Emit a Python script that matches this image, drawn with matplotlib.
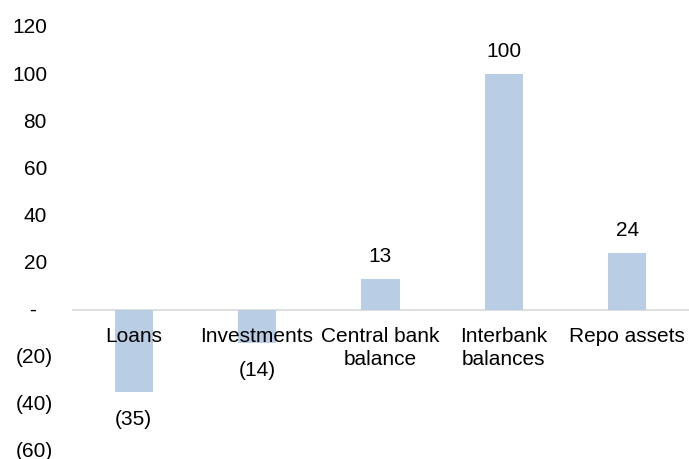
import matplotlib.pyplot as plt
from matplotlib.transforms import blended_transform_factory

plt.rcParams["font.family"] = ["Liberation Sans", "DejaVu Sans"]

categories = ["Loans", "Investments", "Central bank\nbalance", "Interbank\nbalances", "Repo assets"]
values = [-35, -14, 13, 100, 24]
y_ticks = [-60, -40, -20, 0, 20, 40, 60, 80, 100, 120]

BAR_COLOR = "#B9CDE5"
FS = 15


def fmt(v):
    if v < 0:
        return f"({abs(v):,.0f})"
    if v == 0:
        return "-"
    return f"{v:,.0f}"


fig = plt.figure(figsize=(6.89, 4.60), dpi=100)
ax = fig.add_axes([72 / 689, 8 / 460, 1 - 72 / 689, 424 / 460])

x = list(range(len(categories)))
ax.bar(x, values, width=0.31, color=BAR_COLOR, zorder=2)
ax.axhline(0, color="#D9D9D9", linewidth=1.2, zorder=1)

ax.set_xlim(-0.5, len(categories) - 0.5)
ax.set_ylim(-60, 120)

for side in ax.spines.values():
    side.set_visible(False)

ax.set_xticks(x)
ax.set_xticklabels([])
ax.set_yticks([])
ax.tick_params(length=0)

# category labels hang just under the zero line
for xi, name in zip(x, categories):
    ax.annotate(name, (xi, 0), xytext=(0, -11.5), textcoords="offset points",
                ha="center", va="top", fontsize=FS, linespacing=1.3)

# y axis labels, Excel accounting style
trans = blended_transform_factory(fig.transFigure, ax.transData)
for t in y_ticks:
    if t < 0:
        ax.text(53 / 689, t, fmt(t), transform=trans, ha="right", va="center", fontsize=FS)
    elif t == 0:
        ax.text(32.5 / 689, t, fmt(t), transform=trans, ha="center", va="center", fontsize=FS)
    else:
        ax.text(47 / 689, t, fmt(t), transform=trans, ha="right", va="center", fontsize=FS)

# data labels
for xi, v in zip(x, values):
    off = 17 if v >= 0 else -19
    ax.annotate(fmt(v), (xi, v), xytext=(0, off), textcoords="offset points",
                ha="center", va="center", fontsize=FS)

fig.savefig("out.png", dpi=100)
